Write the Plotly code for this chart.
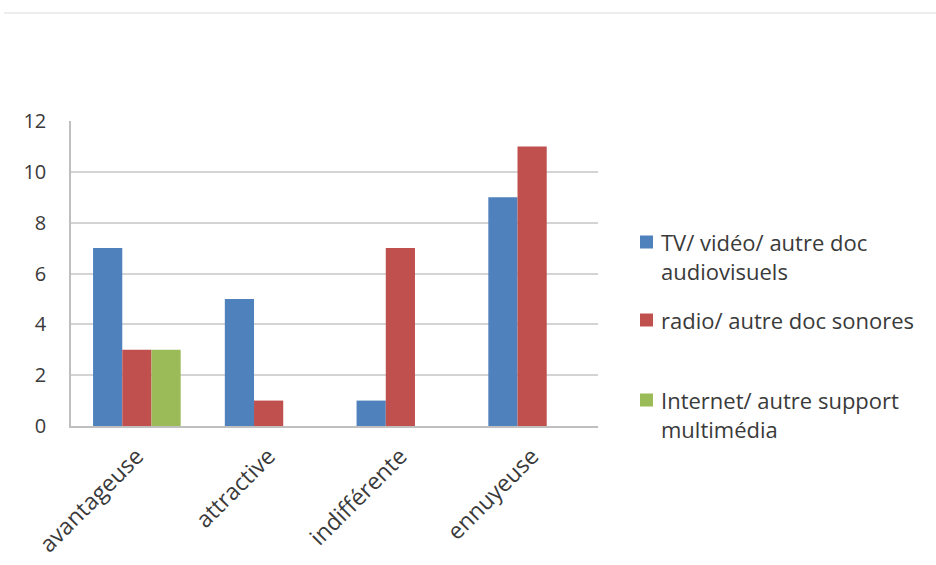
import plotly.graph_objects as go

# Survey answers per category, one list per media type
categories = ["avantageuse", "attractive", "indifférente", "ennuyeuse"]
series_names = [
    "TV/ vidéo/ autre doc audiovisuels",
    "radio/ autre doc sonores",
    "Internet/ autre support multimédia",
]
legend_lines = [
    ["TV/ vidéo/ autre doc", "audiovisuels"],
    ["radio/ autre doc sonores"],
    ["Internet/ autre support", "multimédia"],
]
tv_values = [7, 5, 1, 9]
radio_values = [3, 1, 7, 11]
internet_values = [3, 0, 0, 0]
y_ticks = [0, 2, 4, 6, 8, 10, 12]

colors = ["#4F81BD", "#C0504D", "#9BBB59"]
text_color = "#3A3A3A"
font_family = "'Open Sans', Lato, sans-serif"

W, H = 936, 565
left, right, top, bottom = 71, 598, 121, 426

fig = go.Figure()
for name, vals, col in zip(series_names, [tv_values, radio_values, internet_values], colors):
    fig.add_trace(go.Bar(
        x=categories, y=vals, name=name, marker_color=col,
        marker_line_width=0, showlegend=False,
    ))

def px_x(p):
    return (p - left) / (right - left)

def px_y(p):
    return (bottom - p) / (bottom - top)

shapes = []
annotations = []

# faint rule across the top of the page
shapes.append(dict(type="line", xref="paper", yref="paper",
                   x0=px_x(4), x1=px_x(936), y0=px_y(13), y1=px_y(13),
                   line=dict(color="#EDEDED", width=2)))

# hand-placed legend on the right
legend_size = 22
line_step = 1.3 * legend_size
legend_first_line_y = [242, 320, 400]
for lines, col, y0 in zip(legend_lines, colors, legend_first_line_y):
    shapes.append(dict(type="rect", xref="paper", yref="paper",
                       x0=px_x(640), x1=px_x(653), y0=px_y(y0 - 6.5), y1=px_y(y0 + 6.5),
                       fillcolor=col, line=dict(width=0)))
    centre = y0 + (len(lines) - 1) * line_step / 2
    annotations.append(dict(
        text="<br>".join(lines), xref="paper", yref="paper",
        x=px_x(659), y=px_y(centre), align="left",
        xanchor="left", yanchor="middle", showarrow=False,
        font=dict(size=legend_size, color=text_color, family=font_family),
    ))

fig.update_layout(
    width=W, height=H,
    margin=dict(l=left, r=W - right, t=top, b=H - bottom, pad=0),
    paper_bgcolor="white", plot_bgcolor="white",
    barmode="group", bargap=0.335, bargroupgap=0,
    font=dict(family=font_family, color=text_color),
    shapes=shapes, annotations=annotations,
    xaxis=dict(
        type="category", showline=True, linecolor="#BFBFBF", linewidth=1.5,
        showgrid=False, ticks="", tickangle=-45, automargin=False,
        tickfont=dict(size=23, color=text_color), ticklabelstandoff=6,
    ),
    yaxis=dict(
        range=[0, 12], tickvals=y_ticks, showline=True, linecolor="#BFBFBF",
        linewidth=1.5, showgrid=True, gridcolor="#D4D4D4", gridwidth=1.5,
        zeroline=False, ticks="", tickfont=dict(size=20, color=text_color),
        ticklabelstandoff=19, automargin=False,
    ),
)

fig.write_html("out.html")
